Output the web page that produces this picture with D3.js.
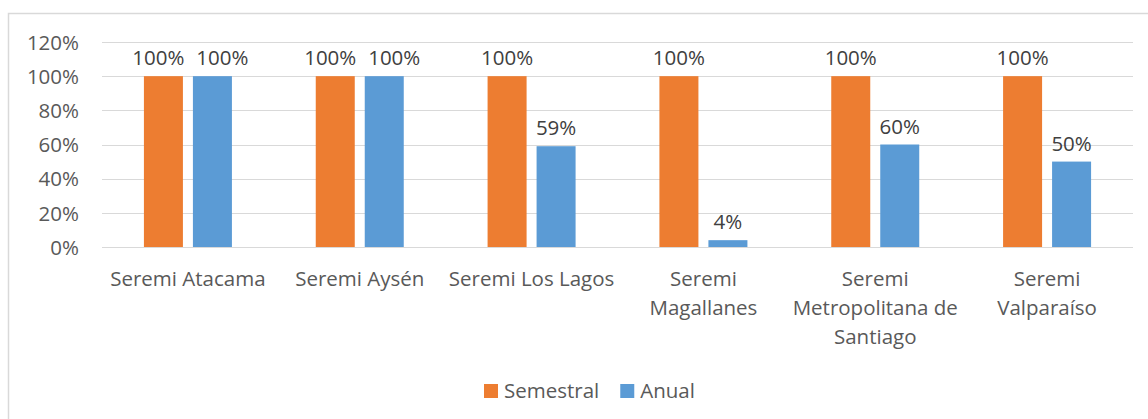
<!DOCTYPE html>
<html>
<head>
<meta charset="utf-8">
<script src="https://cdn.jsdelivr.net/npm/d3@7"></script>
<style>
  body { margin: 0; background: #fff; }
  text { font-family: "Open Sans", sans-serif; }
</style>
</head>
<body>
<div id="chart"></div>
<script>
// data
var categories = ["Seremi Atacama", "Seremi Aysén", "Seremi Los Lagos", "Seremi Magallanes", "Seremi Metropolitana de Santiago", "Seremi Valparaíso"];
var categoryLines = [
  ["Seremi Atacama"],
  ["Seremi Aysén"],
  ["Seremi Los Lagos"],
  ["Seremi", "Magallanes"],
  ["Seremi", "Metropolitana de", "Santiago"],
  ["Seremi", "Valparaíso"]
];
var seriesNames = ["Semestral", "Anual"];
var semestral = [1.00, 1.00, 1.00, 1.00, 1.00, 1.00];
var anual = [1.00, 1.00, 0.59, 0.04, 0.60, 0.50];
var yTicks = [0, 0.2, 0.4, 0.6, 0.8, 1.0, 1.2];
var colors = ["#ED7D31", "#5B9BD5"];

var svgWidth = 1148;
var svgHeight = 419;
var fontSize = "20.5px";

var margin = { top: 42, right: 15, bottom: 172, left: 102 };
var width = 1133 - margin.left;
var height = 247 - margin.top;

var svg = d3.select("#chart")
  .append("svg")
  .attr("width", svgWidth)
  .attr("height", svgHeight);

// chart border
svg.append("rect")
  .attr("x", 8.5)
  .attr("y", 13.5)
  .attr("width", 1160)
  .attr("height", 420)
  .attr("fill", "none")
  .attr("stroke", "#D9D9D9")
  .attr("stroke-width", 1.5);

var chartGroup = svg.append("g")
  .attr("transform", `translate(${margin.left}, ${margin.top})`);

var xScale = d3.scaleBand()
  .domain(categories)
  .range([0, width]);

var xSub = d3.scaleBand()
  .domain(seriesNames)
  .range([xScale.bandwidth() / 2 - 44, xScale.bandwidth() / 2 + 44])
  .paddingInner(0.204);

var yScale = d3.scaleLinear()
  .domain([0, 1.2])
  .range([height, 0]);

// gridlines
chartGroup.append("g")
  .selectAll("line")
  .data(yTicks)
  .enter()
  .append("line")
  .attr("x1", 0)
  .attr("x2", width)
  .attr("y1", d => Math.round(yScale(d)) + 0.5)
  .attr("y2", d => Math.round(yScale(d)) + 0.5)
  .attr("stroke", "#D9D9D9")
  .attr("stroke-width", 1.2);

// y axis labels
var leftAxis = d3.axisLeft(yScale)
  .tickValues(yTicks)
  .tickFormat(d3.format(".0%"))
  .tickSize(0)
  .tickPadding(23);

var yAxis = chartGroup.append("g").call(leftAxis);
yAxis.select(".domain").remove();
yAxis.selectAll("text")
  .attr("font-size", fontSize)
  .attr("fill", "#595959")
  .attr("dy", "0.35em");

// bars
var rows = categories.map((c, i) => ({ cat: c, values: [semestral[i], anual[i]] }));

var groups = chartGroup.selectAll(".cat")
  .data(rows)
  .enter()
  .append("g")
  .attr("class", "cat")
  .attr("transform", d => `translate(${xScale(d.cat)}, 0)`);

groups.selectAll("rect")
  .data(d => d.values.map((v, j) => ({ name: seriesNames[j], value: v, j: j })))
  .enter()
  .append("rect")
  .attr("x", d => xSub(d.name))
  .attr("y", d => yScale(d.value))
  .attr("width", xSub.bandwidth())
  .attr("height", d => height - yScale(d.value))
  .attr("fill", d => colors[d.j]);

// data labels (spread apart when both are equal, like Excel does)
groups.selectAll(".lbl")
  .data(d => d.values.map((v, j) => ({ name: seriesNames[j], value: v, j: j, same: d.values[0] === d.values[1] })))
  .enter()
  .append("text")
  .attr("class", "lbl")
  .attr("x", d => xSub(d.name) + xSub.bandwidth() / 2 + (d.same ? (d.j === 0 ? -5 : 10) : 0))
  .attr("y", d => yScale(d.value) - 18)
  .attr("dy", "0.35em")
  .attr("text-anchor", "middle")
  .attr("font-size", fontSize)
  .attr("fill", "#404040")
  .text(d => d3.format(".0%")(d.value));

// x axis baseline
chartGroup.append("line")
  .attr("x1", 0)
  .attr("x2", width)
  .attr("y1", height + 0.5)
  .attr("y2", height + 0.5)
  .attr("stroke", "#D9D9D9")
  .attr("stroke-width", 1.2);

// category labels
var catLabels = chartGroup.append("g")
  .selectAll("text")
  .data(categories)
  .enter()
  .append("text")
  .attr("x", d => xScale(d) + xScale.bandwidth() / 2)
  .attr("y", height + 32)
  .attr("text-anchor", "middle")
  .attr("font-size", fontSize)
  .attr("fill", "#595959");

catLabels.each(function(d, i) {
  var t = d3.select(this);
  categoryLines[i].forEach((line, k) => {
    t.append("tspan")
      .attr("x", xScale(d) + xScale.bandwidth() / 2)
      .attr("dy", k === 0 ? "0.35em" : 29)
      .text(line);
  });
});

// legend
var legend = svg.append("g")
  .attr("transform", "translate(484, 384)");

var legendX = 0;
seriesNames.forEach((name, i) => {
  legend.append("rect")
    .attr("x", legendX)
    .attr("y", 0)
    .attr("width", 14)
    .attr("height", 14)
    .attr("fill", colors[i]);
  var txt = legend.append("text")
    .attr("x", legendX + 20)
    .attr("y", 7)
    .attr("dy", "0.35em")
    .attr("font-size", fontSize)
    .attr("fill", "#595959")
    .text(name);
  legendX += 20 + txt.node().getComputedTextLength() + 21;
});
</script>
</body>
</html>
